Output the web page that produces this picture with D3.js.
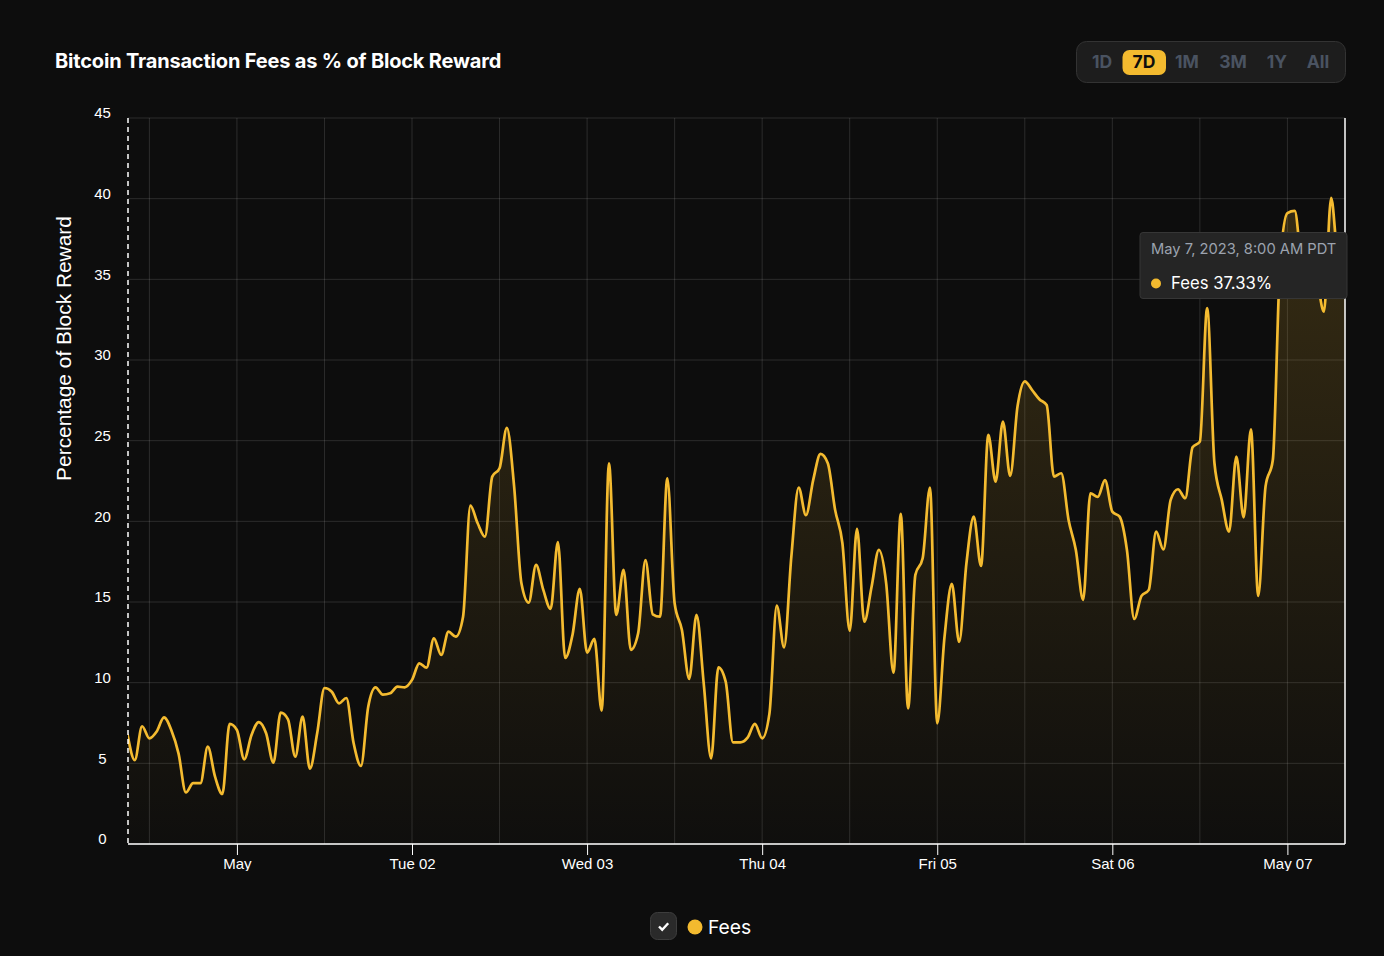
<!DOCTYPE html>
<html>
<head>
<meta charset="utf-8">
<script src="https://cdn.jsdelivr.net/npm/d3@7"></script>
<style>
  html, body { margin: 0; background: #0d0d0d; }
  svg { display: block; }
  .ui { font-family: Inter, sans-serif; }
  .chart text { font-family: "Liberation Sans", Arial, sans-serif; fill: #fff; }
</style>
</head>
<body>
<svg id="chart" width="1384" height="956"></svg>
<script>
// hourly samples, first one at Apr 30 09:00
var fees = [
  6.8, 5.2, 7.3, 6.55, 6.97, 7.85, 7.07, 5.6, 3.2, 3.77, 3.77, 6.03, 4.17, 3.1, 7.44, 7.07, 5.25, 6.76, 7.56, 6.86,
  5.04, 8.14, 7.73, 5.41, 7.89, 4.67, 6.86, 9.67, 9.44, 8.72, 9.05, 6.24, 4.84, 8.51, 9.71, 9.26, 9.34, 9.75, 9.71, 10.17,
  11.2, 10.93, 12.75, 11.72, 13.16, 12.85, 14.09, 20.97, 19.88, 19.05, 22.77, 23.29, 25.79, 22.15, 16.16, 14.96, 17.3, 15.75, 14.57, 18.72,
  11.53, 12.96, 15.81, 11.86, 12.71, 8.26, 23.6, 14.2, 16.99, 12.03, 13.06, 17.6, 14.24, 14.09, 22.67, 14.92, 13.27, 10.23, 14.2, 9.9,
  5.31, 10.95, 10.06, 6.3, 6.3, 6.59, 7.44, 6.55, 8.1, 14.78, 12.19, 17.81, 22.09, 20.38, 22.57, 24.18, 23.6, 20.71, 18.64, 13.22,
  19.53, 13.78, 15.95, 18.23, 16.16, 10.62, 20.46, 8.41, 16.68, 17.71, 22.09, 7.48, 12.85, 16.12, 12.52, 17.39, 20.29, 17.23, 25.36, 22.46,
  26.18, 22.81, 27.11, 28.68, 28.14, 27.57, 27.21, 22.77, 22.98, 20.09, 18.23, 15.13, 21.74, 21.51, 22.55, 20.6, 20.29, 18.23, 13.95, 15.38,
  15.75, 19.36, 18.26, 21.33, 21.99, 21.43, 24.59, 24.94, 33.21, 23.6, 21.33, 19.36, 24.01, 20.25, 25.7, 15.38, 22.15, 23.8, 36, 39.1,
  39.24, 36, 35.5, 35, 33, 40.05, 36.2, 37.33
]
var dayTicks = [Date.UTC(2023, 4, 1), Date.UTC(2023, 4, 2), Date.UTC(2023, 4, 3), Date.UTC(2023, 4, 4), Date.UTC(2023, 4, 5), Date.UTC(2023, 4, 6), Date.UTC(2023, 4, 7)]
var dayLabels = ['May', 'Tue 02', 'Wed 03', 'Thu 04', 'Fri 05', 'Sat 06', 'May 07']
var yTicks = [0, 5, 10, 15, 20, 25, 30, 35, 40, 45]
var ranges = ['1D', '7D', '1M', '3M', '1Y', 'All']
var rangeX = [1102, 1144, 1187, 1233, 1277, 1318]

var HOUR = 3600000
var start = Date.UTC(2023, 3, 30, 9)
var yellow = '#f4bb30'

var left = 128, right = 1345, top_ = 118, bottom = 844

var svg = d3.select('#chart')
var x = d3.scaleUtc()
  .domain([start, start + 167 * HOUR])
  .range([left - 0.5, left - 0.5 + 167 * 7.295])
var y = d3.scaleLinear().domain([0, 45]).range([bottom, top_])

var defs = svg.append('defs')
var grad = defs.append('linearGradient')
  .attr('id', 'feeFill')
  .attr('x1', 0).attr('x2', 0).attr('y1', 0).attr('y2', 1)
grad.append('stop').attr('offset', '0%').attr('stop-color', yellow).attr('stop-opacity', 0.18)
grad.append('stop').attr('offset', '100%').attr('stop-color', yellow).attr('stop-opacity', 0.01)
defs.append('clipPath').attr('id', 'plotClip').append('rect')
  .attr('x', left).attr('y', top_).attr('width', right - left).attr('height', bottom - top_)
defs.append('clipPath').attr('id', 'axisClip').append('rect')
  .attr('x', 0).attr('y', bottom).attr('width', 1384).attr('height', 27)

var chart = svg.append('g').attr('class', 'chart')

// grid, one vertical every 12 hours
var gridTimes = d3.range(3, 167, 12).map(function(h) { return start + h * HOUR })
chart.append('g').selectAll('line')
  .data(gridTimes)
  .enter().append('line')
  .attr('x1', function(d) { return x(d) })
  .attr('x2', function(d) { return x(d) })
  .attr('y1', top_).attr('y2', bottom)
  .attr('stroke', 'rgba(255,255,255,0.13)')
chart.append('g').selectAll('line')
  .data(yTicks)
  .enter().append('line')
  .attr('x1', left).attr('x2', right)
  .attr('y1', function(d) { return y(d) })
  .attr('y2', function(d) { return y(d) })
  .attr('stroke', 'rgba(255,255,255,0.13)')

var area = d3.area()
  .x(function(d, i) { return x(start + i * HOUR) })
  .y0(bottom)
  .y1(function(d) { return y(d) })
  .curve(d3.curveMonotoneX)
var line = d3.line()
  .x(function(d, i) { return x(start + i * HOUR) })
  .y(function(d) { return y(d) })
  .curve(d3.curveMonotoneX)

var plot = chart.append('g').attr('clip-path', 'url(#plotClip)')
plot.append('path').datum(fees).attr('d', area).attr('fill', 'url(#feeFill)')
plot.append('path').datum(fees).attr('d', line)
  .attr('fill', 'none')
  .attr('stroke', yellow)
  .attr('stroke-width', 2.7)
  .attr('stroke-linejoin', 'round')

// axes
var xAxis = d3.axisBottom(x)
  .tickValues(dayTicks)
  .tickFormat(function(d, i) { return dayLabels[i] })
  .tickSize(11)
  .tickPadding(3.5)
var xG = chart.append('g')
  .attr('clip-path', 'url(#axisClip)')
  .append('g')
  .attr('transform', 'translate(0,' + bottom + ')')
  .call(xAxis)
xG.select('.domain').remove()
xG.selectAll('line').attr('stroke', '#fff')
xG.selectAll('text').style('font-size', '15px')

var yAxis = d3.axisLeft(y).tickValues(yTicks).tickSize(0)
var yG = chart.append('g').attr('transform', 'translate(' + left + ',0)').call(yAxis)
yG.select('.domain').remove()
yG.selectAll('text')
  .attr('x', -25.5)
  .attr('dy', '-0.02em')
  .attr('text-anchor', 'middle')
  .style('font-size', '15px')

chart.append('line').attr('x1', left).attr('x2', right).attr('y1', bottom).attr('y2', bottom)
  .attr('stroke', '#fff').attr('stroke-width', 1.5)
chart.append('line').attr('x1', right).attr('x2', right).attr('y1', top_).attr('y2', bottom)
  .attr('stroke', '#fff').attr('stroke-width', 1.5)
chart.append('line').attr('x1', left).attr('x2', left).attr('y1', top_).attr('y2', bottom)
  .attr('stroke', '#fff').attr('stroke-width', 1.5).attr('stroke-dasharray', '5 4')

chart.append('text')
  .attr('transform', 'translate(71,348.5) rotate(-90)')
  .attr('text-anchor', 'middle')
  .style('font-size', '20.9px')
  .text('Percentage of Block Reward')

// title and range buttons
var ui = svg.append('g').attr('class', 'ui')
ui.append('text')
  .attr('x', 55).attr('y', 68)
  .attr('fill', '#fff')
  .style('font-size', '20px').style('font-weight', 700)
  .style('letter-spacing', '-0.18px')
  .text('Bitcoin Transaction Fees as % of Block Reward')

ui.append('rect')
  .attr('x', 1076.5).attr('y', 41.5).attr('width', 269).attr('height', 41).attr('rx', 10)
  .attr('fill', '#1d1d1d').attr('stroke', '#333')
ui.append('rect')
  .attr('x', 1122.5).attr('y', 50).attr('width', 43.5).attr('height', 25).attr('rx', 7)
  .attr('fill', '#f3ba2f')
ui.append('g').selectAll('text')
  .data(ranges)
  .enter().append('text')
  .attr('x', function(d, i) { return rangeX[i] })
  .attr('y', 68)
  .attr('text-anchor', 'middle')
  .attr('fill', function(d) { return d === '7D' ? '#0d0d0d' : '#4a5361' })
  .style('font-size', '17.5px').style('font-weight', 700)
  .text(function(d) { return d })

// legend
ui.append('rect')
  .attr('x', 650.5).attr('y', 912.5).attr('width', 26).attr('height', 27).attr('rx', 7)
  .attr('fill', '#2a2a2a').attr('stroke', '#3d3d3d')
ui.append('path')
  .attr('d', 'M659 926.5l3.2 3.2 6-6.4')
  .attr('fill', 'none').attr('stroke', '#fff').attr('stroke-width', 2.4)
ui.append('circle').attr('cx', 695).attr('cy', 927).attr('r', 7.5).attr('fill', '#f3ba2f')
ui.append('text')
  .attr('x', 708).attr('y', 933.5)
  .attr('fill', '#fff')
  .style('font-size', '19.3px')
  .text('Fees')

// tooltip pinned on the last sample
var tip = ui.append('g')
tip.append('rect')
  .attr('x', 1140).attr('y', 232.5).attr('width', 207).attr('height', 66).attr('rx', 3)
  .attr('fill', '#252525').attr('stroke', '#363636')
tip.append('text')
  .attr('x', 1151).attr('y', 254)
  .attr('fill', '#9ca3af')
  .style('font-size', '14.7px')
  .text('May 7, 2023, 8:00 AM PDT')
tip.append('circle').attr('cx', 1156).attr('cy', 283.5).attr('r', 5).attr('fill', '#f3ba2f')
tip.append('text')
  .attr('x', 1171).attr('y', 289)
  .attr('fill', '#fff')
  .style('font-size', '16.7px')
  .text('Fees ' + fees[fees.length - 1] + '%')
</script>
</body>
</html>
